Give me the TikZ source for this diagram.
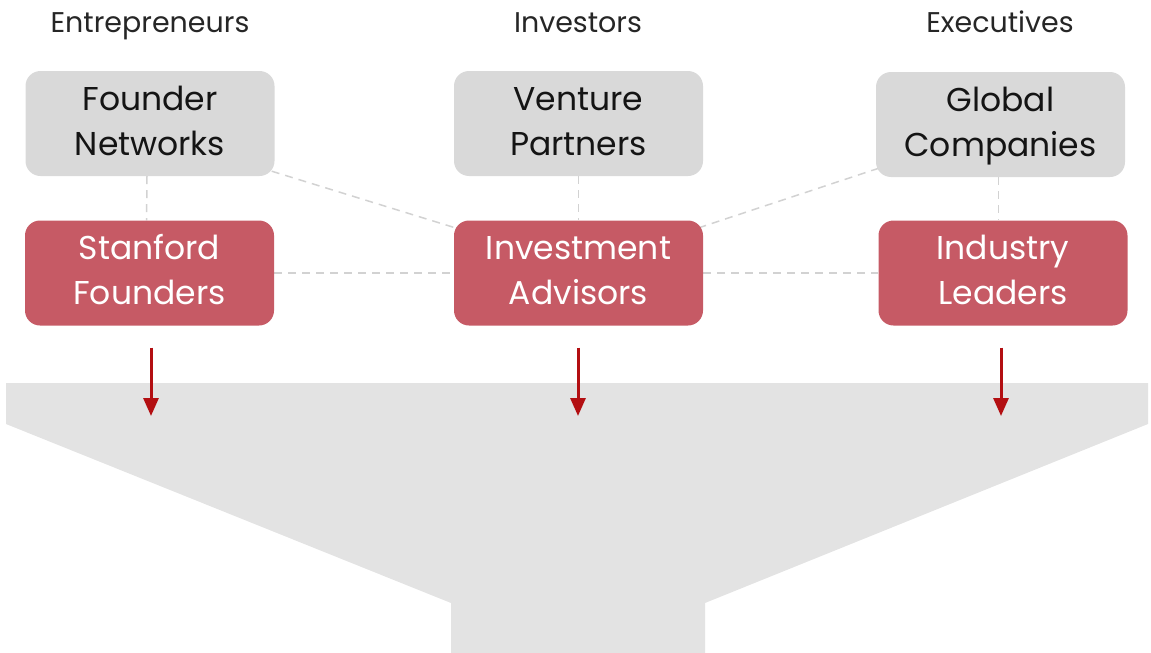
\documentclass[tikz,border=0pt]{standalone}
\usepackage{fontspec}
\setmainfont{Poppins}
\usetikzlibrary{arrows.meta,backgrounds}
\definecolor{boxgray}{HTML}{D9D9D9}
\definecolor{boxred}{HTML}{C65A65}
\definecolor{funnelgray}{HTML}{E3E3E3}
\definecolor{arrred}{HTML}{B30F12}
\definecolor{dashgray}{HTML}{D2D2D2}
\definecolor{titlecol}{HTML}{262626}
\tikzset{
  basebox/.style={rounded corners=15pt, minimum width=249pt, minimum height=105pt,
    align=center, inner sep=0pt, font=\fontsize{33}{45}\selectfont},
  graybox/.style={basebox, fill=boxgray, text=black!92},
  redbox/.style={basebox, fill=boxred, text=white},
  titletext/.style={font=\fontsize{28.5}{32}\selectfont, text=titlecol, anchor=base},
  dashline/.style={draw=dashgray, line width=1.5pt, dash pattern=on 8pt off 6pt},
  downarrow/.style={draw=arrred, line width=3pt, -{Triangle[width=15pt,length=18pt]}},
}
\begin{document}
\begin{tikzpicture}[x=1pt,y=-1pt]
\useasboundingbox (0,0) rectangle (1151,653);
% funnel
\fill[funnelgray] (6,383) -- (1148,383) -- (1148,424) -- (705,603) -- (705,653)
  -- (451,653) -- (451,603) -- (6,424) -- cycle;
% titles
\node[titletext] (t1) at (150,32) {Entrepreneurs};
\node[titletext] (t2) at (578,32) {Investors};
\node[titletext] (t3) at (1000,32) {Executives};
% gray boxes
\node[graybox] (fn) at (150,123.5) {Founder\strut\\Networks\strut};
\node[graybox] (vp) at (578.5,123.5) {Venture\strut\\Partners\strut};
\node[graybox] (gc) at (1000.5,124.5) {Global\strut\\Companies\strut};
% red boxes
\node[redbox] (sf) at (149.5,273) {Stanford\strut\\Founders\strut};
\node[redbox] (ia) at (578.5,273) {Investment\strut\\Advisors\strut};
\node[redbox] (il) at (1003,273) {Industry\strut\\Leaders\strut};
% dashed connectors
\begin{scope}[on background layer]
\draw[dashline] ([xshift=-3pt]fn.south) -- ([xshift=-3pt]sf.north);
\draw[dashline] (vp.south) -- (ia.north);
\draw[dashline] ([xshift=-2pt]gc.south) -- ([xshift=-4.5pt]il.north);
\draw[dashline] ([shift={(-3,-5)}]fn.south east) -- ([shift={(3,8)}]ia.north west);
\draw[dashline] ([shift={(3,-9)}]gc.south west) -- ([shift={(-3,7)}]ia.north east);
\draw[dashline] (sf.east) -- (ia.west);
\draw[dashline] (ia.east) -- (il.west);
\end{scope}
% arrows
\coordinate (a1) at (151,416);
\coordinate (a2) at (578,416);
\coordinate (a3) at (1001,416);
\draw[downarrow] ([yshift=-22pt]sf.south -| a1) -- (a1);
\draw[downarrow] ([yshift=-22pt]ia.south -| a2) -- (a2);
\draw[downarrow] ([yshift=-22pt]il.south -| a3) -- (a3);
\end{tikzpicture}
\end{document}
